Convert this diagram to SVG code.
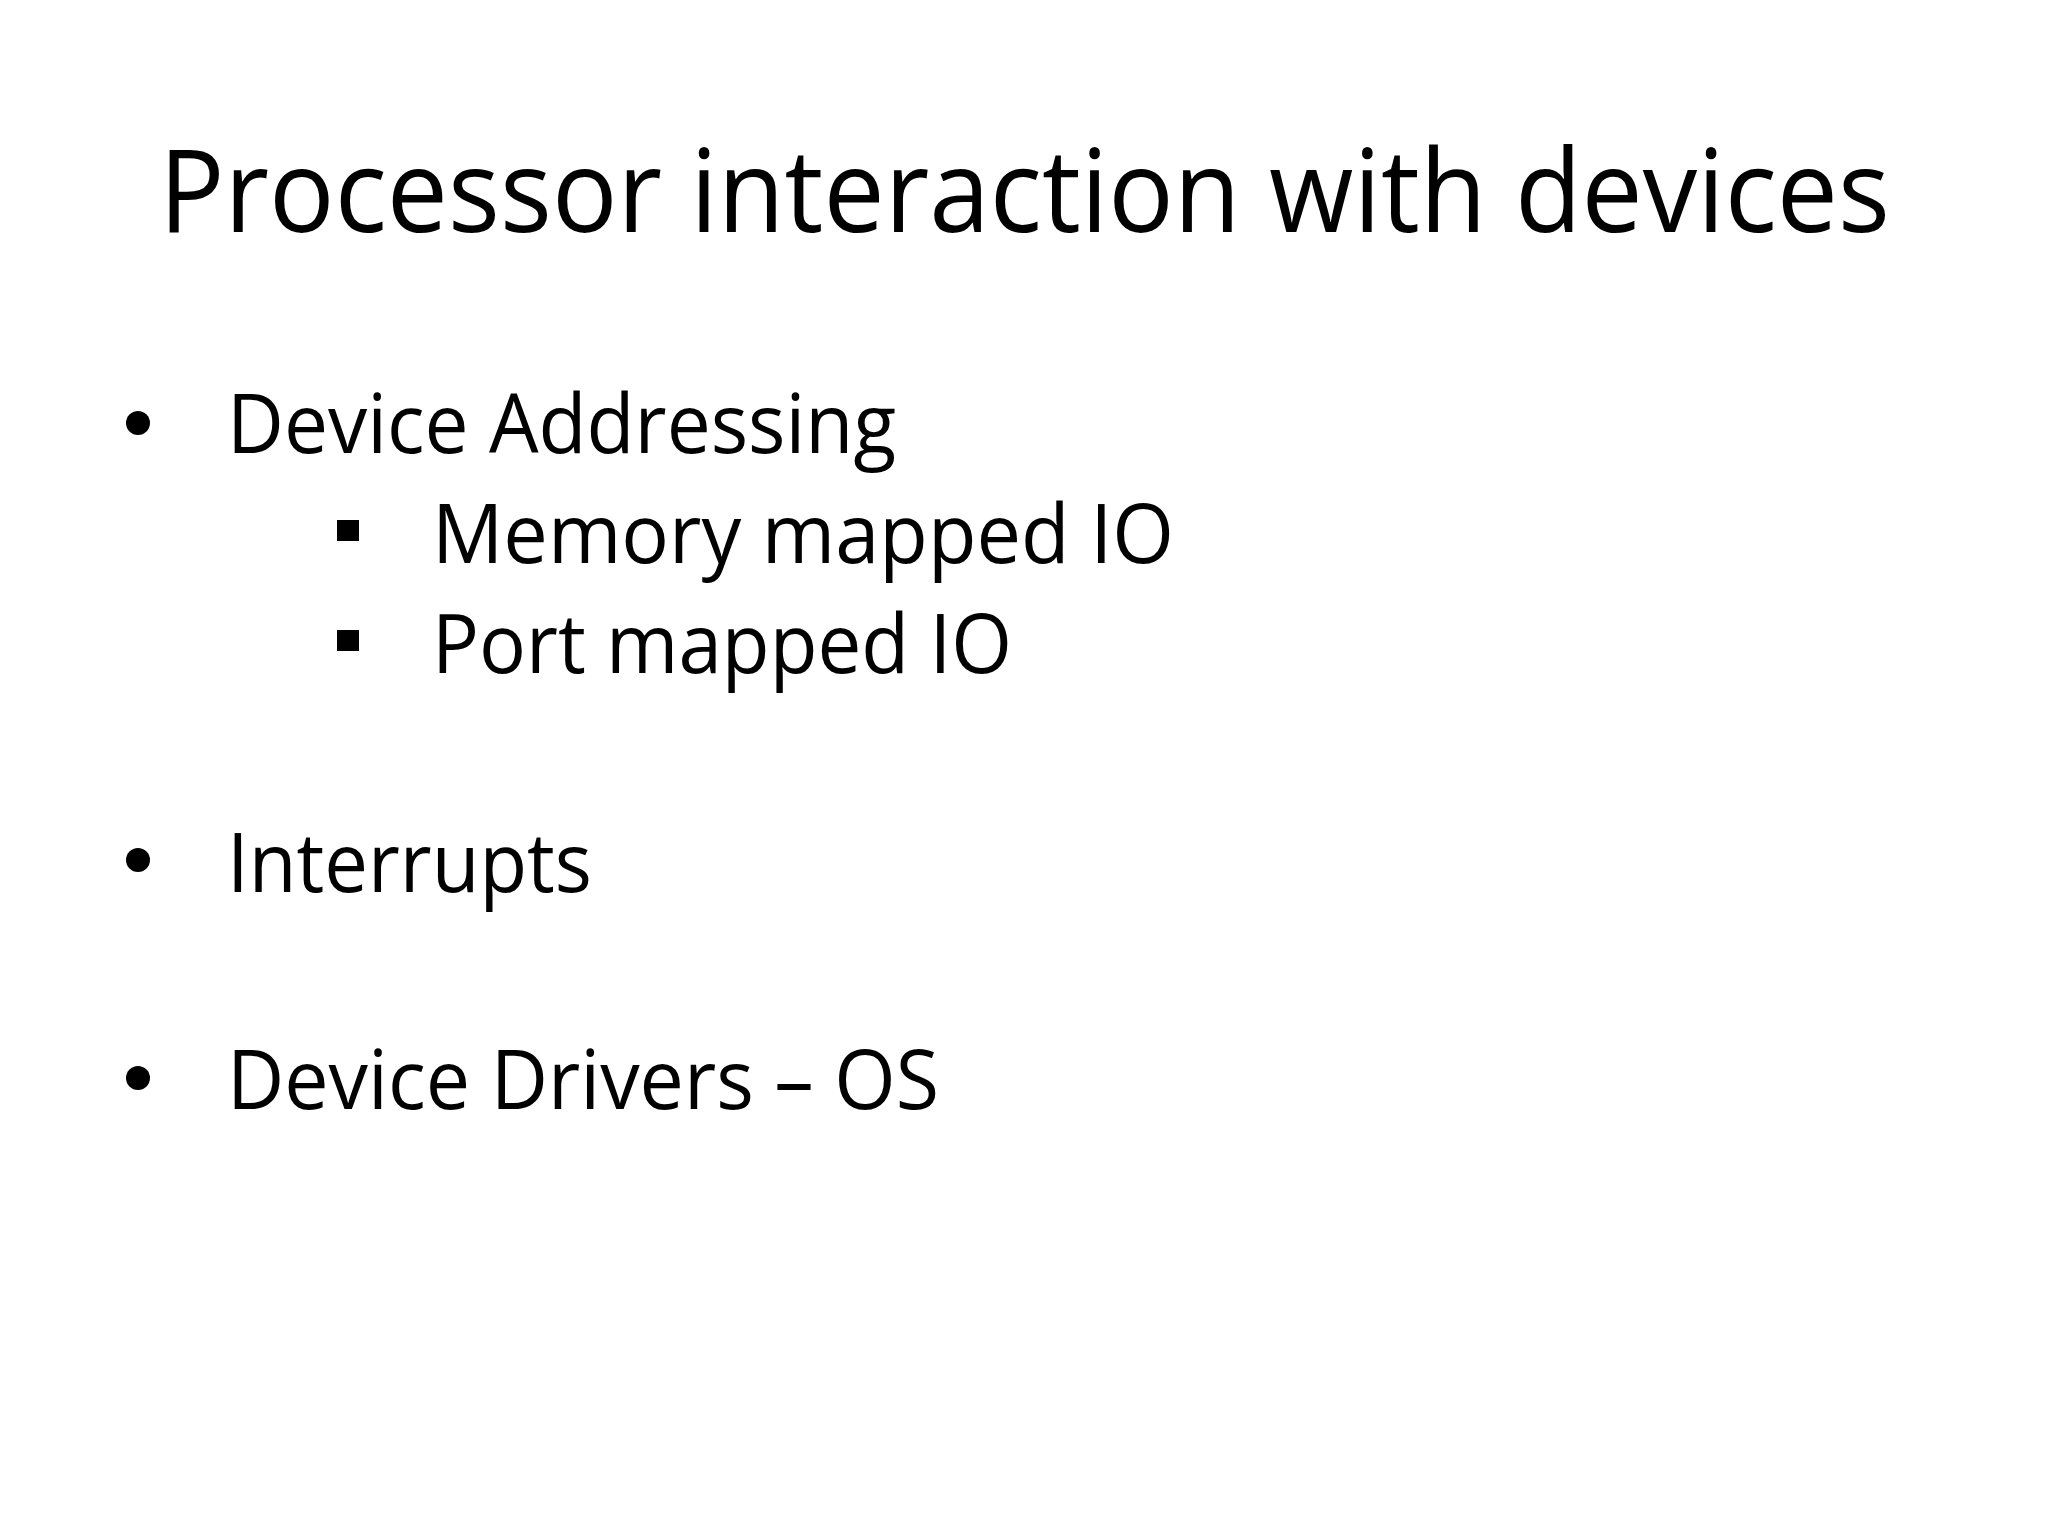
<svg xmlns="http://www.w3.org/2000/svg" width="2048" height="1536" viewBox="0 0 2048 1536">
<style>
text{font-family:"Open Sans","Liberation Sans",sans-serif;fill:#000}
.t{font-size:116px}
.b{font-size:82px}
</style>
<rect width="2048" height="1536" fill="#fff"/>
<g id="title"><text class="t" x="159" y="232" textLength="1731" lengthAdjust="spacingAndGlyphs">Processor interaction with devices</text></g>
<g id="bullets">
<circle cx="138" cy="423" r="12"/>
<text class="b" x="227" y="453" textLength="669" lengthAdjust="spacingAndGlyphs">Device Addressing</text>
<rect x="337" y="520" width="22" height="21"/>
<text class="b" x="432" y="563" textLength="742" lengthAdjust="spacingAndGlyphs">Memory mapped IO</text>
<rect x="337" y="630" width="22" height="21"/>
<text class="b" x="432" y="673" textLength="580" lengthAdjust="spacingAndGlyphs">Port mapped IO</text>
<circle cx="138" cy="860" r="12"/>
<text class="b" x="227" y="892" textLength="365" lengthAdjust="spacingAndGlyphs">Interrupts</text>
<circle cx="138" cy="1078" r="12"/>
<text class="b" x="227" y="1109" textLength="712" lengthAdjust="spacingAndGlyphs">Device Drivers – OS</text>
</g>
</svg>
